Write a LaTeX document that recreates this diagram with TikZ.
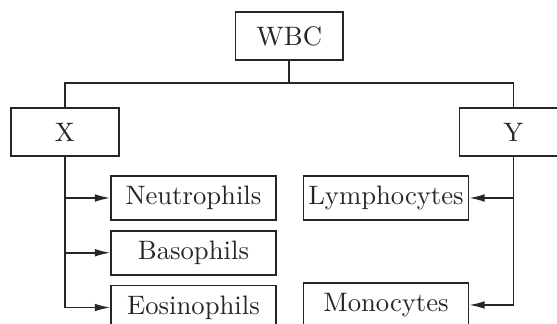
\documentclass[tikz,border=0pt]{standalone}
\usetikzlibrary{arrows.meta, positioning}

\begin{document}
\begin{tikzpicture}[
  color=black!85,
  bigbox/.style={draw, semithick, inner sep=0pt, minimum width=1.42cm, minimum height=0.632cm},
  cellbox/.style={draw, semithick, inner sep=0pt, minimum width=2.17cm, minimum height=0.58cm},
  link/.style={semithick, -{Latex[length=5.8pt, width=2.9pt]}}
]
\clip (0,0) rectangle (7.336,4.267);

\node[bigbox] (wbc) at (3.81,3.79) {WBC};
\node[bigbox] (x) at (0.856,2.529) {X};
\node[bigbox] (y) at (6.763,2.529) {Y};

\node[cellbox] (neu) at (2.548,1.659) {Neutrophils};
\node[cellbox, below=0.12cm of neu] (bas) {Basophils};
\node[cellbox, below=0.12cm of bas] (eos) {Eosinophils};

\node[cellbox] (lym) at (5.084,1.659) {Lymphocytes};
\node[cellbox] (mon) at (5.084,0.250) {Monocytes};

% tree lines
\coordinate (bar) at (3.81,3.174);
\draw[semithick] (wbc.south) -- (bar);
\draw[semithick] (x.north) |- (bar) -| (y.north);

\draw[link] (x.south) |- (neu.west);
\draw[link] (x.south) |- (bas.west);
\draw[link] (x.south) |- (eos.west);

\draw[link] (y.south) |- (lym.east);
\draw[link] (y.south) |- (mon.east);
\end{tikzpicture}
\end{document}
